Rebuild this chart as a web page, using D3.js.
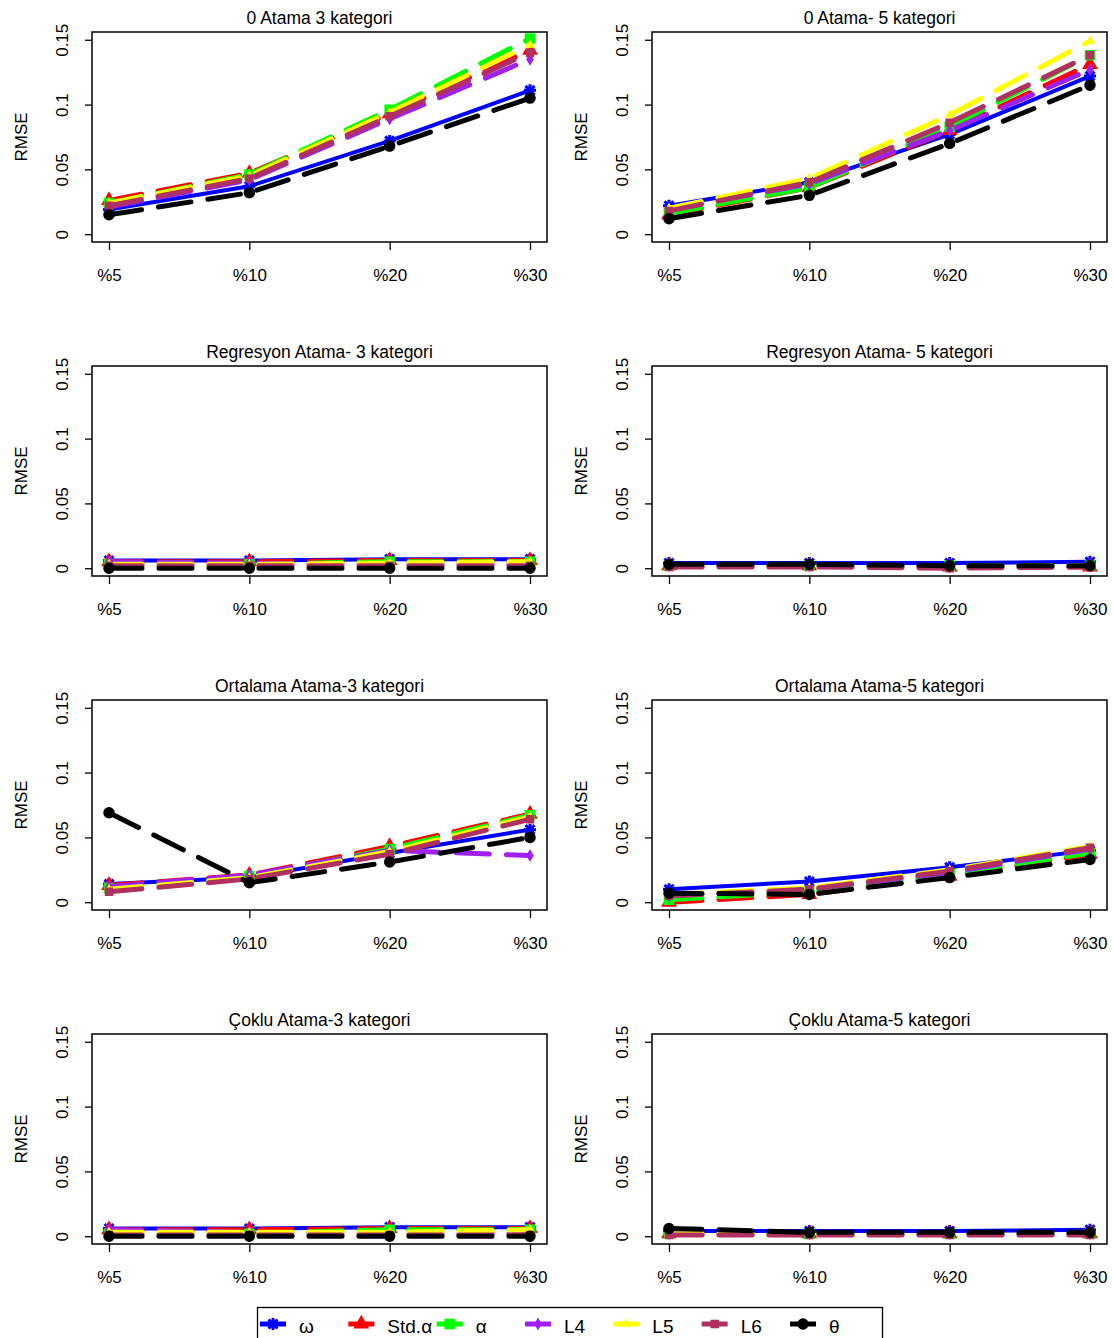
<!DOCTYPE html>
<html>
<head>
<meta charset="utf-8">
<script src="https://cdn.jsdelivr.net/npm/d3@7"></script>
<style>
body { margin: 0; background: #fff; }
text { font-family: "Liberation Sans", Arial, sans-serif; fill: #000; }
</style>
</head>
<body>
<div id="chart"></div>
<script>
// data
const categories = ['%5', '%10', '%20', '%30']
const seriesNames = ['ω', 'Std.α', 'α', 'L4', 'L5', 'L6', 'θ']
const yTicks = [0, 0.05, 0.1, 0.15]
const yTickLabels = ['0', '0.05', '0.1', '0.15']
const panelTitles = [
    '0 Atama 3 kategori', '0 Atama- 5 kategori',
    'Regresyon Atama- 3 kategori', 'Regresyon Atama- 5 kategori',
    'Ortalama Atama-3 kategori', 'Ortalama Atama-5 kategori',
    'Çoklu Atama-3 kategori', 'Çoklu Atama-5 kategori'
]

// one row per series, same order as seriesNames
const sifir3 = [
    [0.019, 0.037, 0.072, 0.111],
    [0.026, 0.047, 0.093, 0.142],
    [0.024, 0.046, 0.096, 0.151],
    [0.021, 0.042, 0.089, 0.135],
    [0.024, 0.045, 0.094, 0.146],
    [0.022, 0.043, 0.091, 0.140],
    [0.015, 0.032, 0.068, 0.105]
]
const sifir5 = [
    [0.022, 0.040, 0.077, 0.122],
    [0.015, 0.036, 0.080, 0.131],
    [0.016, 0.036, 0.083, 0.138],
    [0.019, 0.039, 0.080, 0.127],
    [0.020, 0.043, 0.092, 0.149],
    [0.018, 0.040, 0.086, 0.138],
    [0.012, 0.030, 0.070, 0.115]
]
const regresyon3 = [
    [0.006, 0.006, 0.007, 0.007],
    [0.005, 0.005, 0.006, 0.006],
    [0.003, 0.003, 0.005, 0.005],
    [0.005, 0.004, 0.003, 0.003],
    [0.003, 0.003, 0.004, 0.005],
    [0.002, 0.002, 0.002, 0.002],
    [0.000, 0.000, 0.000, 0.000]
]
const regresyon5 = [
    [0.004, 0.004, 0.004, 0.005],
    [0.002, 0.002, 0.001, 0.001],
    [0.002, 0.002, 0.002, 0.002],
    [0.002, 0.002, 0.001, 0.002],
    [0.002, 0.002, 0.001, 0.002],
    [0.001, 0.001, 0.000, 0.001],
    [0.003, 0.003, 0.002, 0.002]
]
const ortalama3 = [
    [0.014, 0.019, 0.038, 0.056],
    [0.013, 0.021, 0.043, 0.068],
    [0.011, 0.020, 0.041, 0.067],
    [0.012, 0.021, 0.040, 0.036],
    [0.010, 0.019, 0.039, 0.066],
    [0.008, 0.018, 0.037, 0.064],
    [0.069, 0.015, 0.031, 0.050]
]
const ortalama5 = [
    [0.010, 0.016, 0.027, 0.040],
    [0.000, 0.006, 0.020, 0.037],
    [0.002, 0.008, 0.022, 0.038],
    [0.005, 0.010, 0.023, 0.041],
    [0.006, 0.011, 0.025, 0.043],
    [0.005, 0.010, 0.024, 0.042],
    [0.007, 0.006, 0.019, 0.033]
]
const coklu3 = [
    [0.006, 0.006, 0.007, 0.007],
    [0.005, 0.005, 0.006, 0.006],
    [0.002, 0.002, 0.005, 0.005],
    [0.005, 0.003, 0.002, 0.002],
    [0.003, 0.003, 0.003, 0.005],
    [0.001, 0.001, 0.001, 0.001],
    [0.000, 0.000, 0.000, 0.000]
]
const coklu5 = [
    [0.004, 0.004, 0.004, 0.005],
    [0.002, 0.002, 0.002, 0.002],
    [0.002, 0.002, 0.002, 0.002],
    [0.002, 0.002, 0.002, 0.002],
    [0.002, 0.002, 0.002, 0.003],
    [0.001, 0.001, 0.001, 0.001],
    [0.006, 0.003, 0.003, 0.003]
]
const panels = [sifir3, sifir5, regresyon3, regresyon5, ortalama3, ortalama5, coklu3, coklu5]

// styles
const colors = ['#0000FF', '#FF0000', '#00FF00', '#A020F0', '#FFFF00', '#B03060', '#000000']
const markers = ['asterisk', 'triangle', 'square', 'diamond', 'triangle', 'square', 'circle']
const markerSize = [12, 13, 9, 7, 7, 7, 10]

// dimensions
const dim = {
    width: 1113,
    height: 1338,
    boxW: 455,
    boxH: 210,
    left: 92,
    top: 32,
    colStep: 560,
    rowStep: 334,
    pad: 17
}

const svg = d3.select('#chart')
    .append('svg')
        .attr('width', dim.width)
        .attr('height', dim.height)

svg.append('rect')
    .attr('width', dim.width)
    .attr('height', dim.height)
    .attr('fill', '#fff')

function markerPath(type, s) {
    const r = s / 2
    if (type === 'asterisk') {
        const k = r * 0.75
        return `M${-r},0H${r}M0,${-r}V${r}M${-k},${-k}L${k},${k}M${-k},${k}L${k},${-k}`
    }
    const area = {
        triangle: s * s * 0.45,
        square: s * s,
        diamond: s * s * 0.6,
        circle: Math.PI * r * r
    }[type]
    const sym = {
        triangle: d3.symbolTriangle,
        square: d3.symbolSquare,
        diamond: d3.symbolDiamond,
        circle: d3.symbolCircle
    }[type]
    return d3.symbol().type(sym).size(area)()
}

function drawMarker(g, i, cx, cy) {
    const p = g.append('path')
        .attr('d', markerPath(markers[i], markerSize[i]))
        .attr('transform', `translate(${cx},${cy})`)
    if (markers[i] === 'asterisk') {
        p.attr('fill', 'none').attr('stroke', colors[i]).attr('stroke-width', 3)
    } else {
        p.attr('fill', colors[i]).attr('stroke', colors[i]).attr('stroke-width', 1.5)
    }
}

panels.forEach((values, p) => {
    const col = p % 2
    const row = Math.floor(p / 2)
    const bx = dim.left + col * dim.colStep
    const by = dim.top + row * dim.rowStep

    const g = svg.append('g')

    // scales
    const xScale = d3.scalePoint()
        .domain(categories)
        .range([bx + dim.pad, bx + dim.boxW - dim.pad])

    const yScale = d3.scaleLinear()
        .domain([-0.006, 0.156])
        .range([by + dim.boxH, by])

    // axes
    const yAxis = d3.axisLeft(yScale)
        .tickValues(yTicks)
        .tickFormat((d, i) => yTickLabels[i])
        .tickSize(7)

    const yg = g.append('g')
        .attr('transform', `translate(${bx},0)`)
        .call(yAxis)
    yg.select('.domain').remove()
    yg.selectAll('line').attr('stroke', '#000').attr('stroke-width', 1.3)
    yg.selectAll('text')
        .attr('x', 0)
        .attr('y', -24)
        .attr('dy', 0)
        .attr('text-anchor', 'middle')
        .attr('transform', 'rotate(-90)')
        .attr('font-size', 17)
        .attr('font-family', '"Liberation Sans", Arial, sans-serif')

    const xAxis = d3.axisBottom(xScale)
        .tickSize(8)
        .tickPadding(19)

    const xg = g.append('g')
        .attr('transform', `translate(0,${by + dim.boxH})`)
        .call(xAxis)
    xg.select('.domain').remove()
    xg.selectAll('line').attr('stroke', '#000').attr('stroke-width', 1.3)
    xg.selectAll('text')
        .attr('font-size', 17)
        .attr('font-family', '"Liberation Sans", Arial, sans-serif')

    // axis title
    g.append('text')
        .attr('transform', `translate(${bx - 65},${by + dim.boxH / 2}) rotate(-90)`)
        .attr('text-anchor', 'middle')
        .attr('font-size', 17)
        .text('RMSE')

    // panel title
    g.append('text')
        .attr('x', bx + dim.boxW / 2)
        .attr('y', by - 8)
        .attr('text-anchor', 'middle')
        .attr('font-size', 17.5)
        .text(panelTitles[p])

    // series
    const line = d3.line()
        .x((d, j) => xScale(categories[j]))
        .y(d => yScale(d))

    values.forEach((vals, i) => {
        g.append('path')
            .datum(vals)
            .attr('d', line)
            .attr('fill', 'none')
            .attr('stroke', colors[i])
            .attr('stroke-width', i === 0 ? 4 : 5)
            .attr('stroke-linecap', 'round')
            .attr('stroke-linejoin', 'round')
            .attr('stroke-dasharray', i === 0 ? null : '33,17')
        vals.forEach((v, j) => drawMarker(g, i, xScale(categories[j]), yScale(v)))
    })

    // box
    g.append('rect')
        .attr('x', bx)
        .attr('y', by)
        .attr('width', dim.boxW)
        .attr('height', dim.boxH)
        .attr('fill', 'none')
        .attr('stroke', '#000')
        .attr('stroke-width', 1.5)
})

// legend
const legend = svg.append('g')
legend.append('rect')
    .attr('x', 257.5)
    .attr('y', 1307.5)
    .attr('width', 625)
    .attr('height', 40)
    .attr('fill', '#fff')
    .attr('stroke', '#000')
    .attr('stroke-width', 1.3)

const legendX = d3.scaleLinear().domain([0, 6]).range([273, 803])

seriesNames.forEach((name, i) => {
    const cx = legendX(i)
    legend.append('line')
        .attr('x1', cx - 13)
        .attr('x2', cx + 13)
        .attr('y1', 1324)
        .attr('y2', 1324)
        .attr('stroke', colors[i])
        .attr('stroke-width', 5)
    drawMarker(legend, i, cx, 1324)
    legend.append('text')
        .attr('x', cx + 26)
        .attr('y', 1333)
        .attr('font-size', 19)
        .text(name)
})
</script>
</body>
</html>
